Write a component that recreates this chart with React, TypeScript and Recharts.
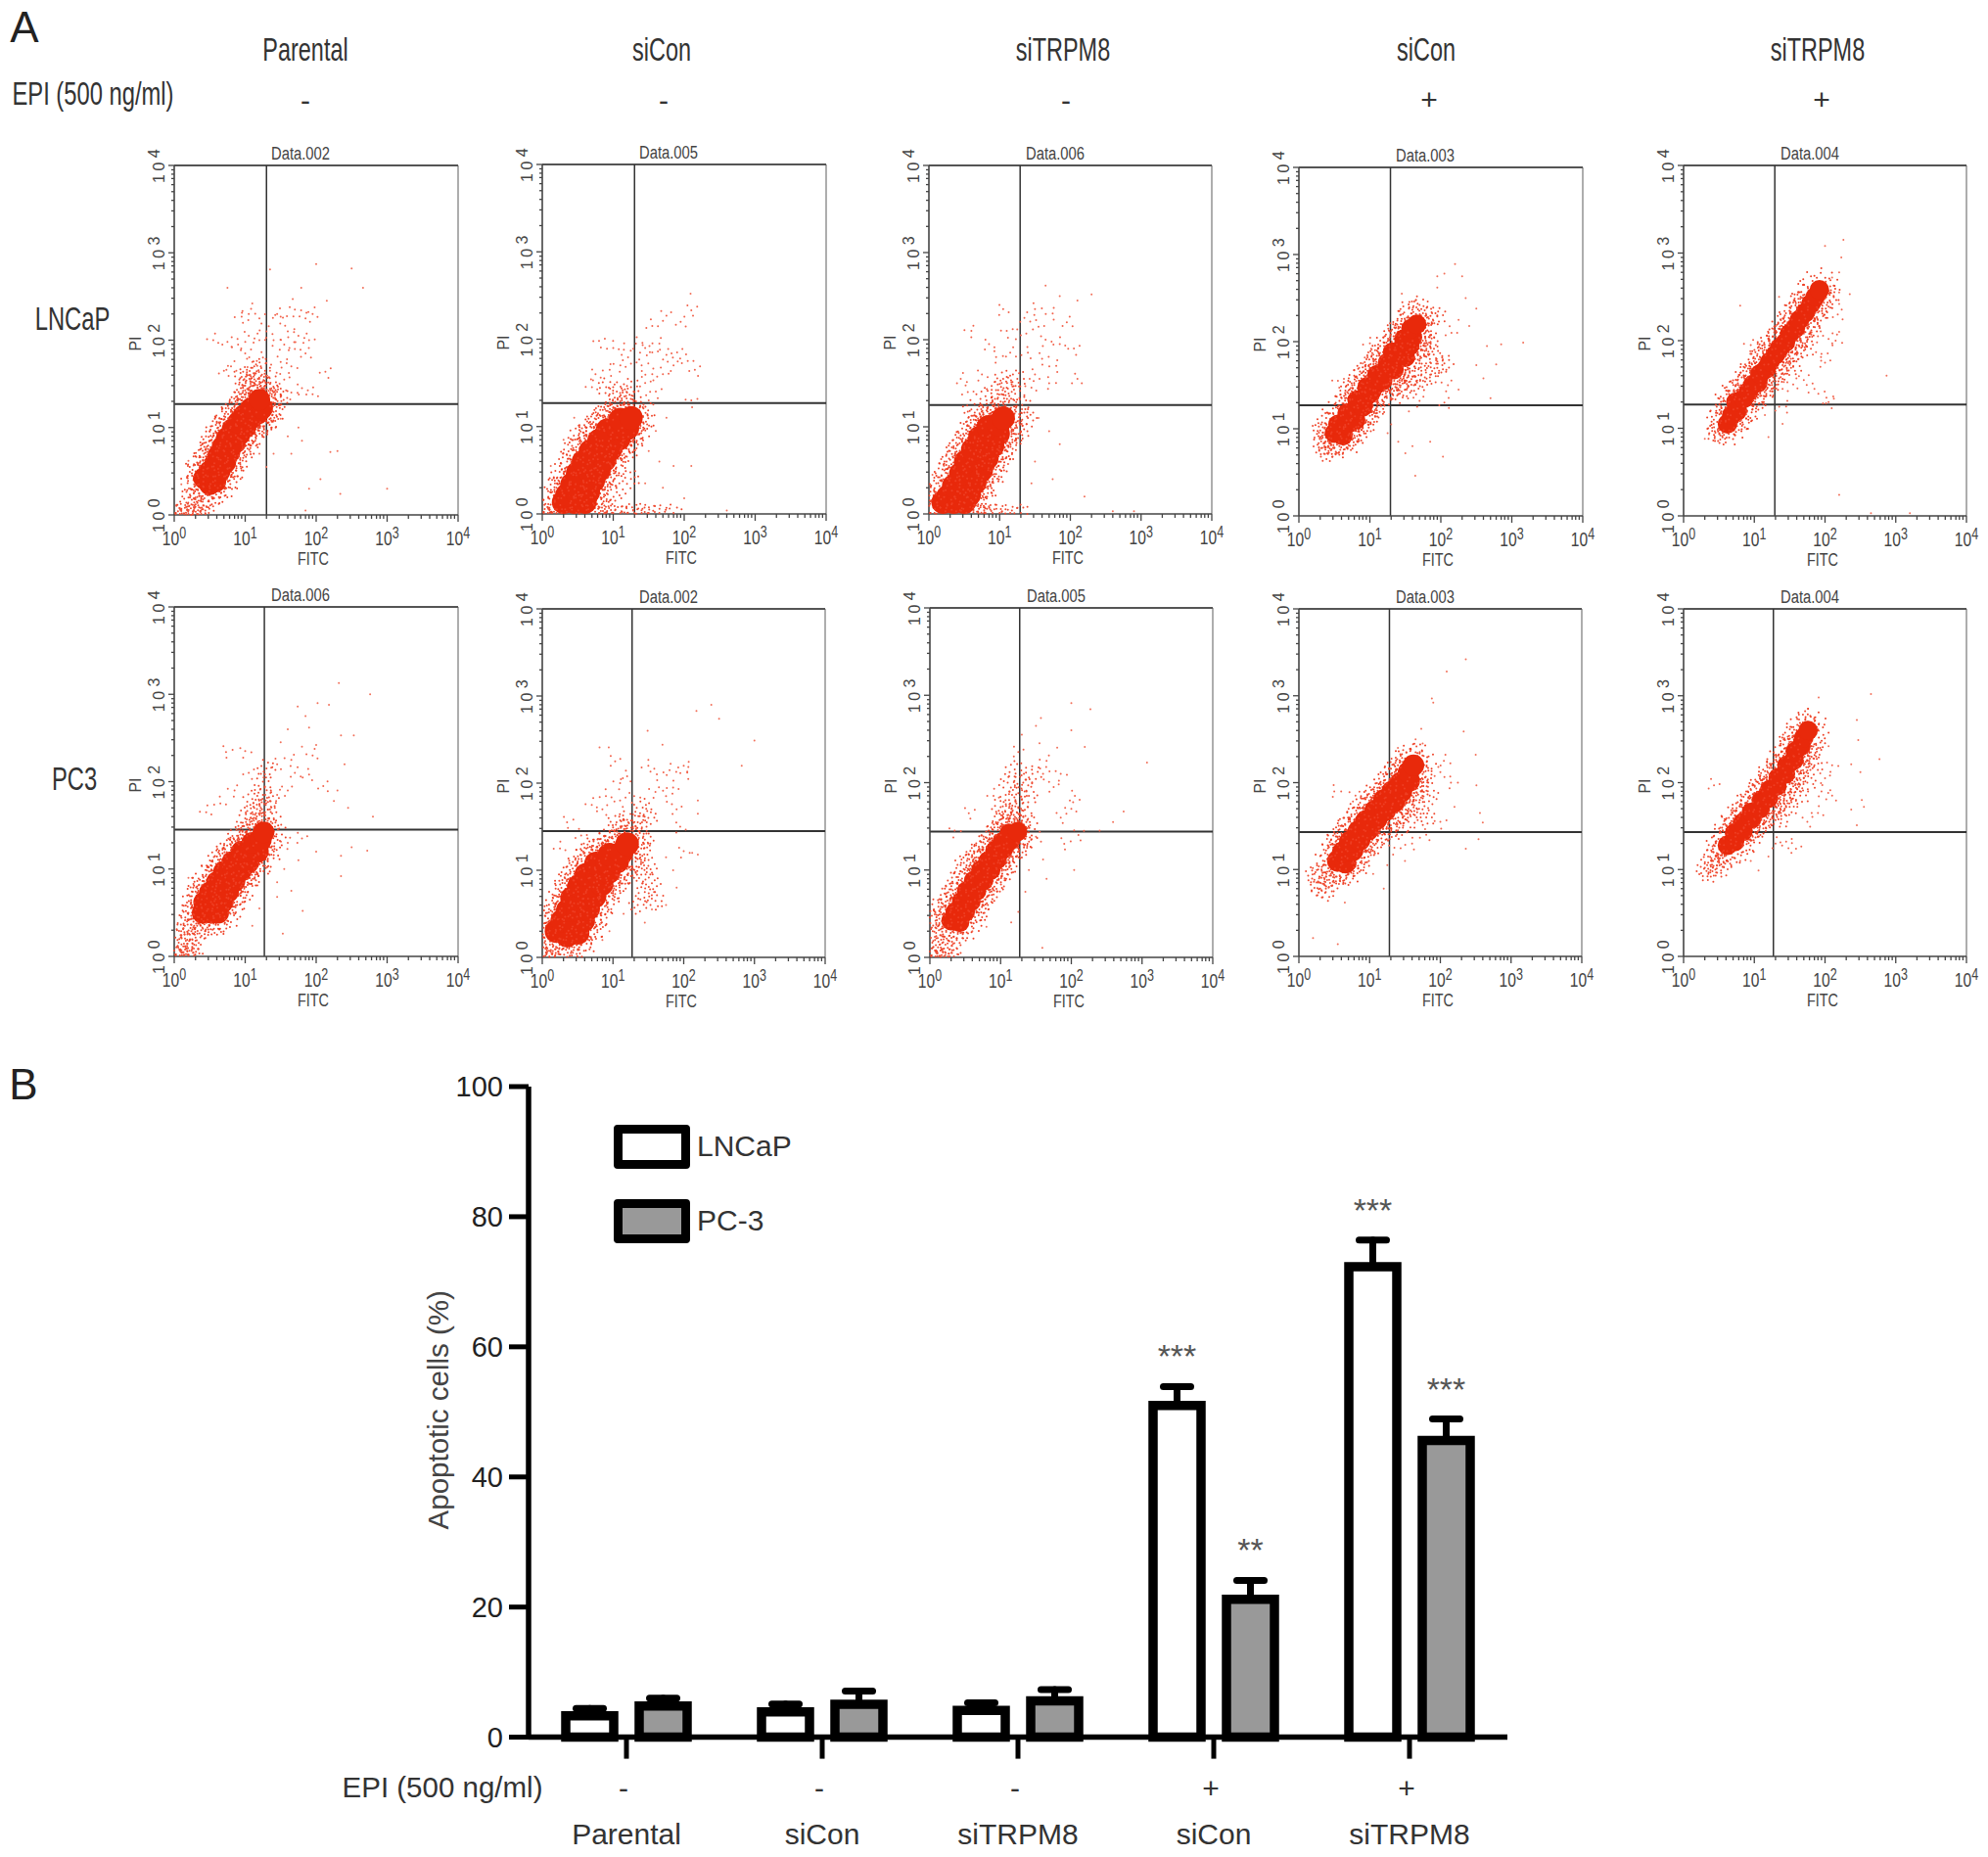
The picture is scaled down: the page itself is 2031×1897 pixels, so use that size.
import {
  Bar,
  BarChart,
  ErrorBar,
  LabelList,
  Legend,
  ReferenceLine,
  Scatter,
  ScatterChart,
  XAxis,
  YAxis,
} from "recharts";

type Pt = [number, number];

// flow cytometry values are log10 intensity (decades)
const coreLnParental: Pt[] = [[0.5,0.35],[0.42,0.42],[0.58,0.38],[0.5,0.5],[0.64,0.5],[0.58,0.6],[0.72,0.6],[0.62,0.68],[0.78,0.72],[0.68,0.78],[0.85,0.82],[0.74,0.88],[0.92,0.92],[0.82,0.98],[1.0,1.0],[0.9,1.06],[1.08,1.1],[0.98,1.14],[1.18,1.16],[1.08,1.22],[1.24,1.22],[1.2,1.32]];
const fringeLnParental: Pt[] = [[0.02,0.01],[0.08,0.01],[0.14,0.01],[0.2,0.01],[0.26,0.01],[0.32,0.01],[0.38,0.01],[0.44,0.01],[0.3,0.12],[0.2,0.2],[0.35,0.25],[0.15,0.08],[0.28,0.35],[0.4,0.15],[0.55,0.2],[0.62,0.28],[0.72,0.42],[0.3,0.5],[0.42,0.7],[0.85,0.58],[0.95,0.75],[0.5,0.85],[1.05,0.85],[0.62,1.0],[1.15,0.98],[0.72,1.12],[1.32,1.05],[0.85,1.25],[1.4,1.18],[0.95,1.35],[1.05,1.38],[1.15,1.42],[1.3,1.38],[1.42,1.34],[1.0,1.48],[1.1,1.52],[1.2,1.5],[1.28,1.48],[1.05,1.6],[1.15,1.62],[0.95,1.58],[1.22,1.7],[1.35,1.5],[1.5,1.35]];
const strayLnParental: Pt[] = [[1.35,2.81],[2.0,2.87],[2.5,2.82],[2.66,2.6],[1.79,2.6],[0.75,2.6],[2.15,2.45],[1.67,2.47],[1.7,2.35],[1.45,2.3],[1.5,2.27],[1.85,2.25],[1.95,2.3],[1.1,2.42],[1.05,2.3],[0.95,2.27],[1.2,2.25],[1.3,2.1],[1.6,2.1],[1.75,2.05],[1.9,2.0],[1.85,1.85],[1.7,1.9],[1.55,1.95],[1.4,2.0],[1.2,2.0],[1.05,2.05],[0.9,1.95],[0.75,1.98],[0.55,2.0],[2.13,1.64],[1.0,1.85],[1.25,1.8],[1.5,1.75],[1.65,1.7],[0.8,1.7],[0.7,1.65],[1.1,1.75],[1.35,1.65],[1.55,1.55],[1.8,1.45],[1.95,1.38],[1.65,1.4],[3.0,0.3],[2.34,0.24],[2.06,0.41],[2.3,0.73],[2.2,0.72],[1.8,0.85],[1.75,1.0],[1.6,0.9],[1.5,1.1],[1.65,0.7],[1.9,0.3],[1.85,0.05],[1.4,0.7],[1.3,0.55],[1.2,0.7],[0.2,0.62],[0.1,0.35]];

const coreLnSiCon: Pt[] = [[0.3,0.1],[0.45,0.06],[0.6,0.1],[0.35,0.22],[0.5,0.22],[0.65,0.25],[0.42,0.34],[0.58,0.36],[0.72,0.38],[0.5,0.47],[0.66,0.5],[0.8,0.5],[0.58,0.6],[0.74,0.62],[0.88,0.62],[0.68,0.72],[0.84,0.74],[0.96,0.74],[0.8,0.84],[0.95,0.86],[1.08,0.86],[0.92,0.96],[1.06,0.98],[1.2,0.98],[1.1,1.08],[1.25,1.1]];
const fringeLnSiCon: Pt[] = [[0.02,0.01],[0.08,0.01],[0.14,0.01],[0.2,0.01],[0.8,0.01],[0.9,0.01],[1.0,0.01],[1.1,0.01],[1.2,0.01],[1.3,0.01],[1.4,0.01],[1.5,0.01],[1.65,0.01],[1.85,0.01],[0.15,0.15],[0.2,0.3],[0.27,0.42],[0.35,0.6],[0.42,0.78],[0.52,0.92],[0.62,0.95],[0.72,1.05],[0.82,1.12],[0.9,1.18],[1.0,1.22],[1.1,1.25],[1.3,0.98],[1.38,1.02],[1.42,1.12],[1.3,1.22],[1.18,1.35],[1.05,1.4],[1.25,1.45],[0.9,1.45],[0.8,0.3],[0.95,0.45],[1.05,0.65],[1.18,0.75],[1.3,0.85],[0.85,0.12],[1.05,0.25],[1.25,0.4]];
const strayLnSiCon: Pt[] = [[2.09,2.52],[1.75,2.27],[1.95,2.2],[2.1,2.33],[1.55,2.15],[0.8,1.98],[1.0,1.9],[1.15,1.88],[1.32,1.95],[1.45,1.9],[1.55,1.85],[1.65,1.95],[1.75,1.82],[1.9,1.85],[2.05,1.75],[2.15,1.65],[1.85,1.7],[1.7,1.6],[1.55,1.6],[1.4,1.7],[1.25,1.72],[1.1,1.7],[0.95,1.65],[0.75,1.6],[0.7,1.45],[1.45,1.5],[1.6,1.4],[1.5,1.3],[2.1,1.3],[1.75,1.1],[1.6,0.95],[1.5,0.72],[1.65,0.6],[1.85,0.55],[2.1,0.55],[1.7,0.3],[2.0,0.18],[2.6,0.04],[0.45,1.1],[0.3,0.85],[0.12,0.55],[1.45,0.35]];

const coreLnSiTrpm: Pt[] = [[0.2,0.08],[0.35,0.05],[0.5,0.08],[0.27,0.2],[0.42,0.2],[0.57,0.22],[0.35,0.32],[0.5,0.34],[0.65,0.36],[0.45,0.46],[0.6,0.48],[0.74,0.5],[0.52,0.6],[0.68,0.62],[0.82,0.64],[0.62,0.74],[0.78,0.76],[0.9,0.78],[0.72,0.88],[0.86,0.9],[0.98,0.92],[0.84,1.0],[0.98,1.03],[1.05,1.1]];
const fringeLnSiTrpm: Pt[] = [[0.02,0.01],[0.08,0.01],[0.7,0.01],[0.8,0.01],[0.9,0.01],[1.0,0.01],[1.15,0.01],[1.3,0.01],[0.1,0.15],[0.15,0.32],[0.22,0.5],[0.3,0.62],[0.38,0.75],[0.47,0.85],[0.55,0.95],[0.65,1.03],[0.75,1.1],[0.85,1.15],[0.95,1.22],[1.05,1.28],[1.15,1.15],[1.2,1.05],[1.3,0.95],[1.18,0.85],[1.1,0.72],[1.0,0.6],[0.9,0.45],[0.8,0.3],[0.7,0.18],[0.6,1.2],[0.8,1.35],[0.95,1.42],[1.1,1.45],[1.22,1.38],[1.32,1.25],[1.4,1.1],[1.25,1.55],[1.05,1.55]];
const strayLnSiTrpm: Pt[] = [[2.3,2.52],[2.1,2.45],[1.85,2.5],[1.65,2.62],[1.5,2.35],[1.75,2.3],[1.95,2.2],[1.55,2.15],[1.35,2.25],[1.05,2.35],[1.1,2.1],[1.3,2.05],[1.65,2.0],[1.85,1.95],[2.05,1.9],[0.6,2.1],[0.85,1.95],[0.95,1.8],[1.15,1.85],[1.4,1.85],[1.6,1.78],[1.8,1.7],[1.5,1.6],[1.7,1.5],[1.45,1.45],[0.75,1.6],[0.45,1.55],[0.55,1.4],[2.1,1.55],[1.55,1.1],[1.7,0.95],[1.85,0.8],[1.5,0.6],[1.75,0.4],[1.45,0.35],[2.2,0.2],[2.9,0.03],[2.6,0.03],[0.05,0.45]];

const coreLnEpi: Pt[] = [[0.5,0.95],[0.62,0.92],[0.55,1.05],[0.68,1.05],[0.8,1.1],[0.68,1.18],[0.8,1.22],[0.9,1.25],[0.82,1.33],[0.94,1.36],[1.02,1.42],[0.96,1.48],[1.08,1.5],[1.18,1.55],[1.1,1.62],[1.22,1.65],[1.34,1.68],[1.25,1.76],[1.38,1.8],[1.5,1.82],[1.32,1.88],[1.45,1.92],[1.56,1.95],[1.48,2.03],[1.6,2.05],[1.58,2.15],[1.66,2.2]];
const fringeLnEpi: Pt[] = [[0.3,0.98],[0.38,0.9],[0.33,0.78],[0.42,0.8],[0.4,0.72],[0.5,0.78],[0.57,0.8],[0.7,0.85],[0.78,0.92],[0.9,1.02],[1.0,1.15],[1.1,1.25],[1.3,1.45],[1.45,1.55],[1.6,1.6],[1.7,1.75],[1.72,1.9],[1.78,2.05],[1.75,2.2],[1.45,2.2],[1.35,2.1],[1.2,1.95],[1.05,1.8],[0.9,1.65],[0.75,1.5],[0.65,1.35],[1.4,1.4],[1.5,1.45],[1.62,1.5],[1.75,1.55],[1.85,1.62],[1.95,1.7],[2.05,1.75],[1.9,1.85],[1.85,1.95],[1.82,2.28],[1.95,2.3],[1.55,2.38],[1.7,2.42]];
const strayLnEpi: Pt[] = [[2.2,2.89],[1.95,2.75],[2.05,2.78],[2.3,2.75],[1.95,2.62],[2.35,2.5],[2.5,2.38],[2.25,2.25],[2.4,2.18],[1.45,2.55],[1.65,2.48],[2.15,2.1],[1.0,1.98],[1.05,1.85],[0.9,1.75],[0.55,1.55],[0.75,1.4],[2.65,1.95],[3.16,1.99],[2.85,1.97],[2.78,1.74],[2.5,1.73],[2.6,1.58],[2.7,1.35],[2.25,1.45],[2.1,1.5],[1.7,1.32],[2.05,1.3],[1.55,1.2],[1.3,1.05],[1.25,0.95],[1.4,0.85],[2.03,0.68],[1.64,0.46],[1.6,0.8],[1.85,0.85],[1.5,0.72]];

const coreLnEpiSi: Pt[] = [[0.62,1.05],[0.68,1.15],[0.76,1.2],[0.74,1.3],[0.85,1.34],[0.92,1.42],[0.98,1.5],[1.05,1.52],[1.08,1.62],[1.17,1.68],[1.22,1.76],[1.3,1.84],[1.36,1.92],[1.44,1.98],[1.5,2.08],[1.58,2.14],[1.64,2.24],[1.72,2.32],[1.8,2.42],[1.86,2.5],[1.92,2.58]];
const fringeLnEpiSi: Pt[] = [[0.45,0.95],[0.52,0.92],[0.5,1.05],[0.58,1.2],[0.62,0.98],[0.8,1.08],[0.72,1.42],[0.85,1.52],[0.95,1.65],[1.05,1.72],[1.12,1.88],[1.22,1.95],[1.3,2.05],[1.42,2.15],[1.5,2.25],[1.6,2.38],[1.7,2.45],[1.05,1.35],[1.18,1.45],[1.28,1.58],[1.4,1.72],[1.5,1.82],[1.6,1.95],[1.7,2.08],[1.8,2.2],[1.9,2.32],[2.0,2.48],[2.02,2.6],[1.55,1.7],[1.72,1.9]];
const strayLnEpiSi: Pt[] = [[2.26,3.15],[2.0,3.08],[2.23,2.95],[2.2,2.78],[2.1,2.72],[2.2,2.55],[2.35,2.53],[2.2,2.42],[2.18,2.3],[2.2,2.1],[2.15,2.0],[2.05,2.02],[1.9,2.05],[1.95,1.85],[2.0,1.75],[1.7,1.55],[1.55,1.5],[1.4,1.45],[1.85,1.45],[2.05,1.3],[2.02,1.35],[1.3,1.2],[1.45,1.25],[1.15,1.15],[1.4,1.05],[2.87,1.6],[2.2,0.24],[0.8,2.4],[1.35,2.5],[0.95,1.95],[0.36,0.93],[0.3,0.88],[1.2,0.9],[2.65,0.03],[3.2,0.03]];

const corePcParental: Pt[] = [[0.4,0.5],[0.52,0.5],[0.62,0.5],[0.42,0.62],[0.55,0.62],[0.68,0.62],[0.5,0.73],[0.63,0.74],[0.76,0.74],[0.6,0.85],[0.72,0.86],[0.85,0.86],[0.7,0.97],[0.83,0.98],[0.94,0.98],[0.82,1.08],[0.94,1.1],[1.05,1.08],[0.95,1.2],[1.08,1.2],[1.18,1.2],[1.1,1.3],[1.22,1.33],[1.26,1.42]];
const fringePcParental: Pt[] = [[0.02,0.01],[0.08,0.01],[0.14,0.01],[0.2,0.01],[0.28,0.01],[0.05,0.12],[0.1,0.22],[0.04,0.3],[0.18,0.12],[0.25,0.08],[0.22,0.25],[0.3,0.18],[0.15,0.35],[0.28,0.35],[0.38,0.3],[0.3,0.45],[0.2,0.5],[0.48,0.4],[0.62,0.36],[0.3,0.65],[0.35,0.82],[0.75,0.55],[0.9,0.7],[1.05,0.9],[0.55,0.98],[0.65,1.15],[1.15,1.05],[1.3,1.25],[0.8,1.25],[0.9,1.38],[1.0,1.42],[1.12,1.48],[1.2,1.55],[1.3,1.52],[1.0,1.58],[1.1,1.65],[1.22,1.7],[1.32,1.68],[1.1,1.8],[1.25,1.85],[1.38,1.48],[1.35,1.78],[1.25,2.0],[1.3,2.15]];
const strayPcParental: Pt[] = [[2.32,3.13],[2.76,3.0],[2.02,2.9],[2.18,2.88],[1.74,2.86],[1.85,2.75],[1.9,2.62],[1.6,2.6],[2.35,2.53],[2.53,2.53],[1.5,2.45],[1.8,2.4],[2.0,2.42],[1.95,2.3],[1.65,2.25],[1.45,2.2],[1.7,2.1],[2.4,2.2],[1.9,2.08],[2.1,1.95],[2.3,1.9],[1.6,1.9],[1.45,1.85],[2.25,1.78],[2.45,1.7],[2.8,1.6],[0.73,2.34],[1.0,2.35],[1.05,2.1],[0.85,1.9],[0.65,1.75],[0.45,1.65],[2.72,1.21],[2.5,1.25],[2.35,1.15],[2.0,1.2],[1.8,1.35],[1.6,1.3],[1.75,1.1],[1.55,1.0],[1.45,0.85],[2.35,0.92],[1.65,0.75],[1.45,0.68],[1.81,0.52],[1.53,0.26],[1.2,0.55],[1.1,0.35],[0.2,0.9]];

const corePcSiCon: Pt[] = [[0.2,0.3],[0.35,0.25],[0.5,0.28],[0.28,0.42],[0.42,0.4],[0.58,0.42],[0.36,0.54],[0.5,0.54],[0.65,0.56],[0.42,0.68],[0.58,0.68],[0.74,0.7],[0.52,0.82],[0.68,0.82],[0.84,0.84],[0.62,0.95],[0.78,0.96],[0.94,0.98],[0.76,1.08],[0.92,1.08],[1.06,1.1],[0.95,1.18],[1.12,1.2],[1.2,1.3]];
const fringePcSiCon: Pt[] = [[0.02,0.01],[0.1,0.01],[0.18,0.01],[0.05,0.15],[0.1,0.28],[0.15,0.12],[0.3,0.1],[0.42,0.12],[0.55,0.14],[0.65,0.25],[0.1,0.42],[0.18,0.55],[0.25,0.7],[0.32,0.85],[0.4,0.98],[0.5,1.08],[0.6,1.2],[0.72,1.28],[0.85,1.32],[0.95,1.38],[1.08,1.42],[1.2,1.48],[0.75,0.4],[0.85,0.55],[0.95,0.7],[1.08,0.85],[1.2,0.95],[1.32,1.1],[1.4,1.25],[1.35,1.4],[1.45,1.35],[1.4,0.95],[1.5,1.05],[1.55,0.85],[1.45,0.75],[1.6,0.65],[1.35,0.6],[1.05,1.55],[1.2,1.58],[1.35,1.55],[1.5,1.6],[1.42,1.72]];
const strayPcSiCon: Pt[] = [[2.39,2.9],[2.18,2.83],[2.5,2.74],[3.0,2.49],[2.82,2.2],[1.49,2.6],[1.7,2.44],[0.81,2.41],[0.94,2.41],[1.03,2.25],[1.1,2.0],[1.2,2.08],[1.5,2.2],[1.62,2.1],[1.8,2.15],[2.0,2.2],[2.05,2.12],[1.85,1.95],[1.75,1.85],[1.6,1.9],[1.3,1.85],[1.1,1.8],[0.9,1.85],[0.85,1.7],[0.7,1.75],[1.9,1.7],[2.2,1.8],[2.2,1.65],[1.95,1.5],[0.35,1.55],[0.55,1.4],[0.25,1.25],[2.0,1.22],[2.2,1.18],[2.12,1.2],[1.75,1.15],[1.85,1.0],[1.9,0.8],[1.75,0.6],[1.55,0.55],[1.45,0.4],[0.85,0.2],[0.95,0.3],[1.15,0.5]];

const corePcSiTrpm: Pt[] = [[0.3,0.42],[0.42,0.4],[0.36,0.52],[0.5,0.52],[0.45,0.64],[0.58,0.64],[0.52,0.76],[0.66,0.76],[0.62,0.88],[0.76,0.88],[0.72,1.0],[0.86,1.0],[0.82,1.1],[0.95,1.12],[0.92,1.22],[1.04,1.24],[1.02,1.32],[1.14,1.34],[1.12,1.42],[1.24,1.44]];
const fringePcSiTrpm: Pt[] = [[0.02,0.01],[0.08,0.01],[0.14,0.01],[0.2,0.01],[0.28,0.01],[0.34,0.01],[0.05,0.12],[0.12,0.18],[0.2,0.1],[0.04,0.3],[0.15,0.32],[0.28,0.25],[0.38,0.2],[0.08,0.42],[0.2,0.48],[0.12,0.58],[0.25,0.65],[0.3,0.78],[0.4,0.92],[0.48,1.08],[0.6,1.15],[0.68,1.22],[0.78,1.3],[0.88,1.42],[0.7,0.55],[0.82,0.7],[0.95,0.85],[1.05,1.0],[1.15,1.15],[1.28,1.3],[1.3,1.5],[1.0,1.58],[1.1,1.55],[1.15,1.65],[1.2,1.58],[1.0,1.72],[1.12,1.8],[1.25,1.72],[1.35,1.62],[1.25,1.88],[1.4,1.85],[1.32,2.0],[1.45,2.1],[1.1,2.0],[1.2,2.15]];
const strayPcSiTrpm: Pt[] = [[2.0,2.91],[2.27,2.84],[1.57,2.74],[1.5,2.65],[2.0,2.6],[1.3,2.55],[1.55,2.45],[1.8,2.4],[2.19,2.41],[1.25,2.35],[1.65,2.25],[3.07,2.23],[1.85,2.1],[1.6,2.1],[1.75,1.95],[2.05,1.85],[0.9,1.85],[0.55,1.65],[0.35,1.45],[2.0,1.7],[1.85,1.6],[2.74,1.67],[2.59,1.55],[2.4,1.45],[2.1,1.4],[1.9,1.3],[1.5,1.38],[1.6,1.12],[2.04,1.0],[1.4,1.0],[1.65,0.9],[1.35,0.75],[1.25,0.52],[1.15,0.4],[1.59,0.11],[0.6,0.3],[0.8,0.35]];

const corePcEpi: Pt[] = [[0.55,1.1],[0.66,1.08],[0.62,1.2],[0.76,1.22],[0.72,1.32],[0.86,1.34],[0.84,1.44],[0.98,1.46],[0.95,1.56],[1.1,1.58],[1.08,1.68],[1.22,1.68],[1.2,1.8],[1.35,1.78],[1.32,1.9],[1.45,1.9],[1.44,2.0],[1.56,2.02],[1.55,2.12],[1.62,2.2]];
const fringePcEpi: Pt[] = [[0.22,0.95],[0.25,0.85],[0.3,0.78],[0.38,0.74],[0.32,1.0],[0.4,0.88],[0.45,1.0],[0.5,0.85],[0.58,0.92],[0.7,0.95],[0.8,1.05],[0.48,1.2],[0.52,1.32],[0.6,1.42],[0.7,1.55],[0.82,1.65],[0.95,1.75],[1.05,1.85],[1.18,1.95],[1.3,2.1],[1.4,2.2],[1.5,2.28],[1.65,2.35],[1.72,2.25],[1.75,2.1],[1.72,1.95],[1.6,1.85],[1.55,1.7],[1.45,1.65],[1.3,1.48],[1.18,1.4],[1.05,1.3],[0.95,1.2],[1.4,1.45],[1.55,1.55],[1.7,1.7],[1.85,1.85],[1.8,1.6]];
const strayPcEpi: Pt[] = [[2.36,3.42],[2.09,3.28],[1.88,2.97],[1.9,2.92],[2.33,2.59],[1.73,2.62],[1.65,2.5],[1.75,2.45],[2.05,2.25],[2.0,2.12],[2.15,2.0],[2.5,2.32],[2.51,1.97],[1.4,2.4],[0.5,1.9],[0.8,1.85],[2.2,1.72],[2.56,1.65],[2.6,1.54],[2.54,1.35],[2.36,1.24],[2.0,1.55],[1.8,1.4],[1.6,1.3],[1.35,1.25],[1.5,1.1],[1.25,1.05],[1.05,0.95],[1.2,0.78],[0.65,0.62],[0.2,0.21],[0.55,0.14]];

const corePcEpiSi: Pt[] = [[0.62,1.28],[0.72,1.32],[0.72,1.42],[0.84,1.44],[0.84,1.54],[0.96,1.58],[0.96,1.66],[1.08,1.7],[1.1,1.8],[1.2,1.82],[1.22,1.92],[1.32,1.96],[1.34,2.06],[1.44,2.1],[1.46,2.2],[1.56,2.26],[1.58,2.36],[1.66,2.42],[1.7,2.52],[1.76,2.6]];
const fringePcEpiSi: Pt[] = [[0.3,1.02],[0.35,0.95],[0.4,1.1],[0.45,1.0],[0.5,1.12],[0.55,1.03],[0.42,1.2],[0.52,1.24],[0.6,1.16],[0.62,1.42],[0.7,1.55],[0.8,1.65],[0.88,1.75],[1.0,1.85],[1.1,1.98],[1.22,2.1],[1.35,2.22],[1.5,2.42],[1.6,2.55],[0.95,1.42],[1.08,1.5],[1.2,1.62],[1.3,1.72],[1.42,1.82],[1.52,1.92],[1.6,2.05],[1.7,2.2],[1.8,2.35],[1.85,2.2],[1.75,2.0],[1.65,1.85],[1.5,1.72],[1.38,1.58],[1.8,2.65],[1.72,2.72]];
const strayPcEpiSi: Pt[] = [[2.65,3.02],[1.91,2.98],[1.76,2.85],[1.85,2.75],[2.45,2.72],[2.47,2.49],[2.77,2.27],[2.37,2.21],[2.5,2.12],[2.05,2.42],[2.1,2.2],[2.0,2.05],[1.95,1.9],[2.1,1.85],[0.43,1.97],[2.52,1.8],[2.37,1.69],[2.55,1.72],[2.45,1.51],[1.9,1.65],[1.75,1.55],[1.59,1.24],[1.45,1.32],[1.3,1.3],[1.06,0.99],[0.95,1.1],[1.2,1.15],[0.8,1.1]];

const gateX = [1.3, 1.3, 1.29, 1.29, 1.29, 1.27, 1.27, 1.27, 1.28, 1.27];
const gateY = [1.27, 1.27, 1.25, 1.27, 1.27, 1.45, 1.45, 1.44, 1.43, 1.43];
const sampleNames = ["Data.002", "Data.005", "Data.006", "Data.003", "Data.004", "Data.006", "Data.002", "Data.005", "Data.003", "Data.004"];
const coreSets = [coreLnParental, coreLnSiCon, coreLnSiTrpm, coreLnEpi, coreLnEpiSi, corePcParental, corePcSiCon, corePcSiTrpm, corePcEpi, corePcEpiSi];
const fringeSets = [fringeLnParental, fringeLnSiCon, fringeLnSiTrpm, fringeLnEpi, fringeLnEpiSi, fringePcParental, fringePcSiCon, fringePcSiTrpm, fringePcEpi, fringePcEpiSi];
const straySets = [strayLnParental, strayLnSiCon, strayLnSiTrpm, strayLnEpi, strayLnEpiSi, strayPcParental, strayPcSiCon, strayPcSiTrpm, strayPcEpi, strayPcEpiSi];

// left, top, right, bottom of each plot area on the page
const panelBoxes = [
  [178, 169, 468, 526], [554, 168, 844, 525], [949, 169, 1238, 525], [1327, 171, 1617, 527], [1720, 169, 2009, 527],
  [178, 620, 468, 977], [554, 622, 843, 978], [950, 621, 1239, 978], [1327, 622, 1616, 977], [1720, 622, 2009, 977],
];
const coreRadius = [11, 12, 12, 10, 10, 11, 12, 10, 11, 10];

const decades = [0, 1, 2, 3, 4];
const minorSteps = [0.3, 0.48, 0.6, 0.7, 0.78, 0.85, 0.9, 0.95];
const logTicks = [...decades, ...decades.slice(0, 4).flatMap((d) => minorSteps.map((m) => d + m))];

// bar chart
const groups = ["Parental", "siCon", "siTRPM8", "siCon", "siTRPM8"];
const epiSigns = ["-", "-", "-", "+", "+"];
const lncapValues = [3.3, 3.9, 4.1, 51, 72.3];
const lncapErrors = [1.1, 1.2, 1.2, 2.9, 4.1];
const pc3Values = [4.8, 5.05, 5.6, 21.2, 45.6];
const pc3Errors = [1.2, 2.05, 1.7, 2.9, 3.3];
const lncapStars = ["", "", "", "***", "***"];
const pc3Stars = ["", "", "", "**", "***"];
const percentTicks = [0, 20, 40, 60, 80, 100];

const barRows = groups.map((group, i) => ({
  group,
  lncap: lncapValues[i],
  lncapErr: [0, lncapErrors[i]],
  lncapStar: lncapStars[i],
  pc3: pc3Values[i],
  pc3Err: [0, pc3Errors[i]],
  pc3Star: pc3Stars[i],
}));

const SANS = "'Liberation Sans', Arial, sans-serif";
const PX_PER_PERCENT = 6.646;

// speckle around a marker so one point reads as a patch of the event cloud
const coreSpeckle = [[-15,-4],[-12,6],[-9,-11],[-8,12],[-3,-15],[2,14],[6,-13],[9,10],[13,-6],[15,3],[-11,-1],[11,-1],[4,-10],[-4,10],[-17,8],[17,-9],[-14,-12],[14,13],[-19,0],[19,4],[0,-19],[-2,18],[10,-16],[-11,16],[-6,-18],[7,17]];
const fringeSpeckle = [[-6,-2],[-3,5],[-1,-6],[3,3],[6,-3],[0,0],[5,6],[-5,-7],[-9,3],[9,1],[2,-9],[-1,9]];
const plumeSpeckle = [[0,0],[-5,3],[4,-5],[5,5]];

function Caption({ x, y, size, squeeze = 1, rotate = 0, color = "#333", children }: any) {
  return (
    <div
      style={{
        position: "absolute",
        left: x,
        top: y,
        fontFamily: SANS,
        fontSize: size,
        color,
        whiteSpace: "nowrap",
        lineHeight: 1,
        transform: `translate(-50%, -50%) rotate(${rotate}deg) scaleX(${squeeze})`,
      }}
    >
      {children}
    </div>
  );
}

function LogXTick({ x, y, payload }: any) {
  const major = Number.isInteger(payload.value);
  return (
    <g>
      <line x1={x} x2={x} y1={y} y2={y + (major ? 7 : 4)} stroke="#444" strokeWidth={1.3} />
      {major && (
        <text transform={`translate(${x},${y + 31}) scale(0.78,1)`} textAnchor="middle" fontFamily={SANS} fontSize={20} fill="#444">
          10
          <tspan dy={-7} fontSize={16}>{payload.value}</tspan>
        </text>
      )}
    </g>
  );
}

function LogYTick({ x, y, payload }: any) {
  const major = Number.isInteger(payload.value);
  return (
    <g>
      <line x1={x} x2={x - (major ? 6 : 3)} y1={y} y2={y} stroke="#444" strokeWidth={1.3} />
      {major && (
        <text transform={`translate(${x - 10},${y + 18}) rotate(-90)`} fontFamily={SANS} fontSize={16} letterSpacing={3.5} fill="#444">
          10
          <tspan dy={-5} dx={1} fontSize={16}>{payload.value}</tspan>
        </text>
      )}
    </g>
  );
}

const toPoints = (pts: Pt[]) => pts.map(([x, y]) => ({ x, y }));
// strays close to the main population are thicker than the far outliers
const isPlume = ([x, y]: Pt) => x < 2.2 && y < 2.4 && y > 1.2;

function FlowPanel({ index }: { index: number }) {
  const [left, top, right, bottom] = panelBoxes[index];
  const padLeft = 70;
  const padTop = 30;
  const padRight = 20;
  const padBottom = 60;
  const plotBottom = padTop + bottom - top;
  const r = coreRadius[index];

  const patch = (radius: number, fill: string, speckle: number[][], spread: number, dotFill: string) => (props: any) => {
    const { cx, cy } = props;
    const turn = ((cx * 7 + cy * 13) % 360) * (Math.PI / 180);
    const c = Math.cos(turn) * spread;
    const s = Math.sin(turn) * spread;
    return (
      <g>
        {speckle.map(([dx, dy], i) => {
          const px = cx + dx * c - dy * s;
          const py = cy + dx * s + dy * c;
          if (px < padLeft || py > plotBottom) return null;
          return <circle key={i} cx={px} cy={py} r={1} fill={dotFill} />;
        })}
        {radius > 0 && <circle cx={cx} cy={Math.min(cy, plotBottom - radius)} r={radius} fill={fill} />}
      </g>
    );
  };

  const strays = straySets[index];
  return (
    <div style={{ position: "absolute", left: left - padLeft, top: top - padTop }}>
      <ScatterChart
        width={right - left + padLeft + padRight}
        height={bottom - top + padTop + padBottom}
        margin={{ top: padTop, right: padRight, bottom: 0, left: 0 }}
      >
        <XAxis
          type="number"
          dataKey="x"
          domain={[0, 4]}
          ticks={logTicks}
          interval={0}
          height={padBottom}
          tick={LogXTick}
          tickLine={false}
          tickSize={0}
          tickMargin={0}
          axisLine={{ stroke: "#444", strokeWidth: 1.6 }}
        />
        <YAxis
          type="number"
          dataKey="y"
          domain={[0, 4]}
          ticks={logTicks}
          interval={0}
          width={padLeft}
          tick={LogYTick}
          tickLine={false}
          tickSize={0}
          tickMargin={0}
          axisLine={{ stroke: "#444", strokeWidth: 1.6 }}
        />
        <Scatter data={toPoints(strays.filter((p) => !isPlume(p)))} shape={patch(0, "", [[0, 0]], 1, "#f2705a")} isAnimationActive={false} />
        <Scatter data={toPoints(strays.filter(isPlume))} shape={patch(0, "", plumeSpeckle, 1, "#f2634c")} isAnimationActive={false} />
        <Scatter data={toPoints(fringeSets[index])} shape={patch(0, "", fringeSpeckle, 1, "#ef4a30")} isAnimationActive={false} />
        <Scatter data={toPoints(coreSets[index])} shape={patch(r, "#e8290b", coreSpeckle, (r + 6) / 14, "#ee3f24")} isAnimationActive={false} />
        <ReferenceLine x={4} stroke="#777" strokeWidth={1.2} />
        <ReferenceLine y={4} stroke="#555" strokeWidth={2.2} />
        <ReferenceLine x={gateX[index]} stroke="#333" strokeWidth={1.5} />
        <ReferenceLine y={gateY[index]} stroke="#333" strokeWidth={2} />
      </ScatterChart>
      <Caption x={padLeft + (right - left) / 2 - 16} y={padTop - 12} size={18} squeeze={0.82} color="#444">
        {sampleNames[index]}
      </Caption>
      <Caption x={padLeft + (right - left) / 2 - 3} y={padTop + bottom - top + 45} size={18} squeeze={0.8} color="#444">
        FITC
      </Caption>
      <Caption x={padLeft - 39} y={padTop + (bottom - top) / 2 + 3} size={16} rotate={-90} color="#444">
        PI
      </Caption>
    </div>
  );
}

function GroupTick({ x, y, payload }: any) {
  return (
    <g fontFamily={SANS} fontSize={30} fill="#333" textAnchor="middle">
      <text x={x - 3} y={y + 38}>{epiSigns[payload.index]}</text>
      <text x={x} y={y + 85}>{groups[payload.index]}</text>
    </g>
  );
}

const starLabel = (errors: number[]) => (props: any) => {
  if (!props.value) return null;
  const capY = props.y - errors[props.index] * PX_PER_PERCENT;
  return (
    <text x={props.x + props.width / 2} y={capY - 19} textAnchor="middle" fontFamily={SANS} fontSize={34} fill="#555">
      {props.value}
    </text>
  );
};

function BarLegend({ payload }: any) {
  return (
    <div style={{ fontFamily: SANS, fontSize: 30, color: "#333" }}>
      {(payload ?? []).map((item: any) => (
        <div key={item.value} style={{ display: "flex", alignItems: "center", height: 76 }}>
          <div
            style={{
              boxSizing: "border-box",
              width: 78,
              height: 45,
              border: "9px solid #000",
              borderRadius: 4,
              background: item.payload?.fill ?? item.color,
              marginRight: 7,
            }}
          />
          {item.value}
        </div>
      ))}
    </div>
  );
}

export default function App() {
  return (
    <div style={{ position: "absolute", left: 0, top: 0, width: 2031, height: 1897, background: "#fff", overflow: "hidden" }}>
      <Caption x={25} y={28} size={44} color="#222">A</Caption>
      <Caption x={24} y={1108} size={44} color="#222">B</Caption>

      <Caption x={312} y={50} size={33} squeeze={0.71}>Parental</Caption>
      <Caption x={676} y={50} size={33} squeeze={0.71}>siCon</Caption>
      <Caption x={1086} y={50} size={33} squeeze={0.71}>siTRPM8</Caption>
      <Caption x={1457} y={50} size={33} squeeze={0.71}>siCon</Caption>
      <Caption x={1857} y={50} size={33} squeeze={0.71}>siTRPM8</Caption>
      <Caption x={95} y={95} size={33} squeeze={0.72}>EPI (500 ng/ml)</Caption>
      <Caption x={312} y={103} size={30}>-</Caption>
      <Caption x={678} y={103} size={30}>-</Caption>
      <Caption x={1089} y={103} size={30}>-</Caption>
      <Caption x={1460} y={102} size={30}>+</Caption>
      <Caption x={1861} y={102} size={30}>+</Caption>
      <Caption x={74} y={325} size={33} squeeze={0.72}>LNCaP</Caption>
      <Caption x={76} y={795} size={33} squeeze={0.72}>PC3</Caption>

      {panelBoxes.map((_, i) => (
        <FlowPanel key={i} index={i} />
      ))}

      <div style={{ position: "absolute", left: 340, top: 1080 }}>
        <BarChart
          width={1240}
          height={817}
          data={barRows}
          barSize={49}
          barGap={26}
          margin={{ top: 30, right: 40, bottom: 0, left: 0 }}
        >
          <XAxis
            dataKey="group"
            height={122.4}
            allowDuplicatedCategory
            interval={0}
            tick={GroupTick}
            tickSize={22}
            tickLine={{ stroke: "#000", strokeWidth: 5 }}
            axisLine={{ stroke: "#000", strokeWidth: 5.5 }}
          />
          <YAxis
            domain={[0, 100]}
            ticks={percentTicks}
            width={200}
            tickSize={20}
            tickMargin={6}
            tick={{ fontFamily: SANS, fontSize: 29, fill: "#222" }}
            tickLine={{ stroke: "#000", strokeWidth: 5 }}
            axisLine={{ stroke: "#000", strokeWidth: 5.5 }}
            label={{
              value: "Apoptotic cells (%)",
              angle: -90,
              position: "center",
              dx: 8,
              dy: -2,
              style: { fontFamily: SANS, fontSize: 29.5, fill: "#444" },
            }}
          />
          <Legend
            content={BarLegend}
            layout="horizontal"
            verticalAlign="middle"
            wrapperStyle={{ left: 287, top: 53, width: "auto" }}
          />
          <Bar name="LNCaP" dataKey="lncap" fill="#ffffff" stroke="#000" strokeWidth={9.5} isAnimationActive={false}>
            <ErrorBar dataKey="lncapErr" direction="y" width={14} stroke="#000" strokeWidth={7} strokeLinecap="round" />
            <LabelList dataKey="lncapStar" content={starLabel(lncapErrors)} />
          </Bar>
          <Bar name="PC-3" dataKey="pc3" fill="#999999" stroke="#000" strokeWidth={9.5} isAnimationActive={false}>
            <ErrorBar dataKey="pc3Err" direction="y" width={14} stroke="#000" strokeWidth={7} strokeLinecap="round" />
            <LabelList dataKey="pc3Star" content={starLabel(pc3Errors)} />
          </Bar>
        </BarChart>
      </div>
      <Caption x={452} y={1826} size={29.5}>EPI (500 ng/ml)</Caption>
    </div>
  );
}
